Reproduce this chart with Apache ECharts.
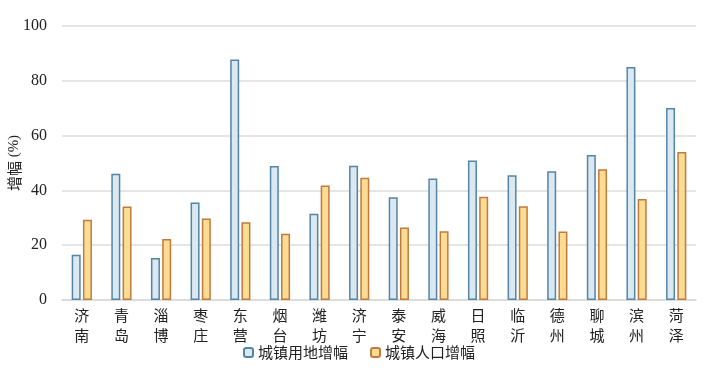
<!DOCTYPE html>
<html><head><meta charset="utf-8">
<script src="https://cdn.jsdelivr.net/npm/echarts@6/dist/echarts.min.js"></script>
<style>html,body{margin:0;padding:0;background:#fff}#c{width:718px;height:371px}</style>
</head><body><div id="c"></div>
<script>
const categories = ['济南','青岛','淄博','枣庄','东营','烟台','潍坊','济宁','泰安','威海','日照','临沂','德州','聊城','滨州','菏泽'];
const landGrowth = [16.5,46.1,15.3,35.6,87.8,48.9,31.5,49.0,37.5,44.3,50.9,45.5,47.0,52.9,85.0,70.1];
const popGrowth = [29.3,34.1,22.3,29.7,28.4,24.2,41.8,44.6,26.5,25.1,37.7,34.2,25.0,47.7,36.9,54.0];
const seriesNames = ['城镇用地增幅','城镇人口增幅'];
const yTicks = [0,20,40,60,80,100];

const serif = "'Times New Roman', 'Liberation Serif', 'DejaVu Serif', serif";
const cjk = "'Noto Sans CJK SC', sans-serif";
const chart = echarts.init(document.getElementById('c'));
chart.setOption({
  animation:false,
  textStyle:{fontFamily:serif},
  grid:{left:62,right:22,top:26,bottom:71,containLabel:false,outerBoundsMode:'none'},
  legend:{
    data:seriesNames, bottom:6, left:'center',
    itemWidth:9, itemHeight:9, itemGap:22,
    textStyle:{fontFamily:cjk,fontSize:15,color:'#222'}
  },
  xAxis:{
    type:'category', data:categories,
    axisLine:{lineStyle:{color:'#d9d9d9',width:1.5}},
    axisTick:{show:false},
    axisLabel:{fontFamily:cjk,fontSize:15,color:'#222',lineHeight:20,margin:5,
      formatter:v=>v.split('').join('\n')}
  },
  yAxis:{
    type:'value', min:yTicks[0], max:yTicks[yTicks.length-1], interval:20,
    name:'{c|增幅} {s|(%)}', nameLocation:'middle', nameGap:40, nameRotate:90,
    nameMoveOverlap:false,
    nameTextStyle:{fontSize:15,color:'#222',rich:{c:{fontFamily:cjk,fontSize:15,color:'#222'},s:{fontFamily:serif,fontSize:15,color:'#222'}}},
    axisLine:{show:false}, axisTick:{show:false},
    axisLabel:{fontFamily:serif,fontSize:16,color:'#222',margin:15},
    splitLine:{lineStyle:{color:'#dcdcdc',width:1.5}}
  },
  series:[
    {name:seriesNames[0],type:'bar',data:landGrowth,barWidth:9,barGap:'25%',
     itemStyle:{color:'#dae8f1',borderColor:'#5585a5',borderWidth:1.5}},
    {name:seriesNames[1],type:'bar',data:popGrowth,barWidth:9,
     itemStyle:{color:'#fbdc92',borderColor:'#c07b3e',borderWidth:1.5}}
  ]
});
</script></body></html>
